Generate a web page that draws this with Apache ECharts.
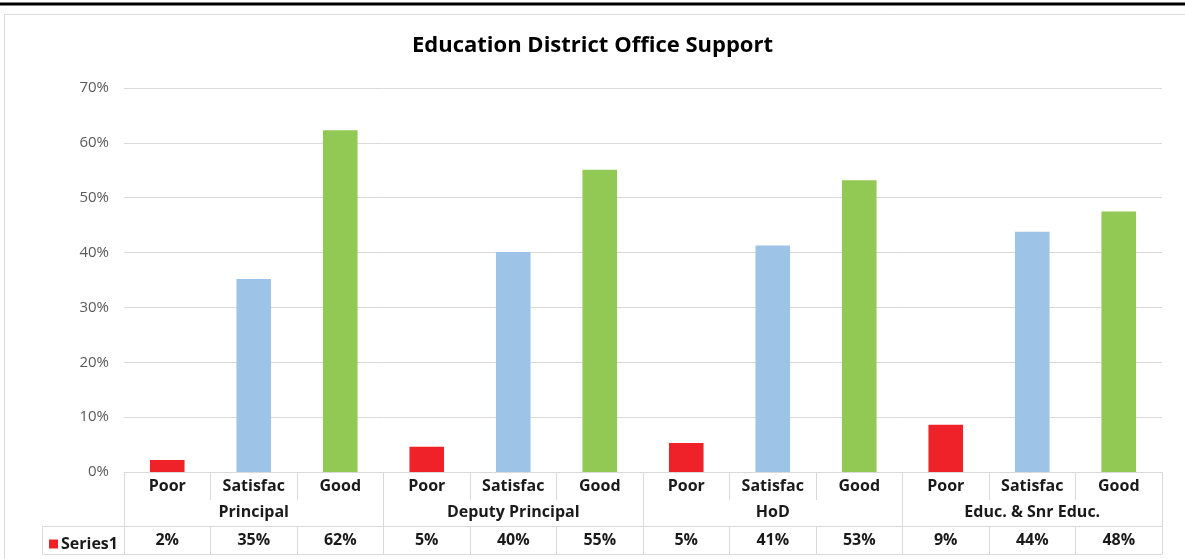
<!DOCTYPE html>
<html>
<head>
<meta charset="utf-8">
<script src="https://cdn.jsdelivr.net/npm/echarts@6/dist/echarts.min.js"></script>
<style>
  html, body { margin: 0; padding: 0; background: #fff; }
  #chart { width: 1185px; height: 559px; }
</style>
</head>
<body>
<div id="chart"></div>
<script>
// data
var ratings = ['Poor', 'Satisfac', 'Good'];
var groups = ['Principal', 'Deputy Principal', 'HoD', 'Educ. & Snr Educ.'];
var values = [2.2, 35.2, 62.3, 4.6, 40.1, 55.1, 5.3, 41.3, 53.2, 8.6, 43.8, 47.5];
var ratingColors = ['#ee2228', '#9dc3e6', '#92c955'];
var yTicks = [0, 10, 20, 30, 40, 50, 60, 70];

var cats = [];
var barData = [];
groups.forEach(function (g, gi) {
  ratings.forEach(function (r, ri) {
    var v = values[gi * ratings.length + ri];
    cats.push(r);
    barData.push({ value: v, itemStyle: { color: ratingColors[ri] } });
  });
});
var tableRow = values.map(function (v) { return Math.round(v) + '%'; });

var lineCol = '#d9d9d9';
var font = 'Open Sans';

var myChart = echarts.init(document.getElementById('chart'));
myChart.setOption({
  backgroundColor: '#fff',
  animation: false,
  title: {
    text: 'Education District Office Support',
    left: 'center',
    top: 30,
    textStyle: { fontFamily: font, fontSize: 22, fontWeight: 'bold', color: '#000' }
  },
  legend: {
    data: ['Series1'],
    left: 44,
    top: 531,
    icon: 'rect',
    itemWidth: 9,
    itemHeight: 9,
    itemGap: 4,
    textStyle: { fontFamily: font, fontSize: 16, fontWeight: 'bold', color: '#1a1a1a', padding: [0, 0, 0, -2] }
  },
  grid: { left: 124, right: 23, top: 88, bottom: 87, containLabel: false },
  graphic: [
    { type: 'line', shape: { x1: 0, y1: 4, x2: 1185, y2: 4 }, style: { stroke: '#000', lineWidth: 3 } },
    { type: 'rect', shape: { x: 4.5, y: 14.5, width: 1200, height: 600 }, style: { fill: 'none', stroke: lineCol, lineWidth: 1 } },
    { type: 'rect', shape: { x: 42.5, y: 526.5, width: 82, height: 28 }, style: { fill: 'none', stroke: lineCol, lineWidth: 1 } }
  ],
  xAxis: [
    {
      type: 'category', data: cats, position: 'bottom', offset: 0,
      axisLine: { show: true, lineStyle: { color: lineCol } },
      axisTick: { show: true, interval: 0, length: 28, lineStyle: { color: lineCol } },
      axisLabel: { interval: 0, margin: 6, fontFamily: font, fontSize: 16, fontWeight: 'bold', color: '#1a1a1a' }
    },
    {
      type: 'category', data: groups, position: 'bottom', offset: 28,
      axisLine: { show: false },
      axisTick: { show: true, interval: 0, length: 26, lineStyle: { color: lineCol } },
      axisLabel: { interval: 0, margin: 4, fontFamily: font, fontSize: 16, fontWeight: 'bold', color: '#1a1a1a' }
    },
    {
      type: 'category', data: tableRow, position: 'bottom', offset: 54,
      axisLine: { show: true, lineStyle: { color: lineCol } },
      axisTick: { show: true, interval: 0, length: 28, lineStyle: { color: lineCol } },
      axisLabel: { interval: 0, margin: 6, fontFamily: font, fontSize: 16, fontWeight: 'bold', color: '#1a1a1a' }
    },
    {
      type: 'category', data: tableRow, position: 'bottom', offset: 82,
      axisLine: { show: true, lineStyle: { color: lineCol } },
      axisTick: { show: false },
      axisLabel: { show: false }
    }
  ],
  yAxis: {
    type: 'value',
    min: yTicks[0],
    max: yTicks[yTicks.length - 1],
    interval: 10,
    axisLine: { show: false },
    axisTick: { show: false },
    splitLine: { lineStyle: { color: lineCol } },
    axisLabel: { margin: 15, fontFamily: font, fontSize: 15, color: '#595959', formatter: '{value}%' }
  },
  series: [{
    name: 'Series1',
    type: 'bar',
    xAxisIndex: 0,
    barWidth: '40%',
    itemStyle: { color: ratingColors[0] },
    data: barData
  }]
}, true);
</script>
</body>
</html>
